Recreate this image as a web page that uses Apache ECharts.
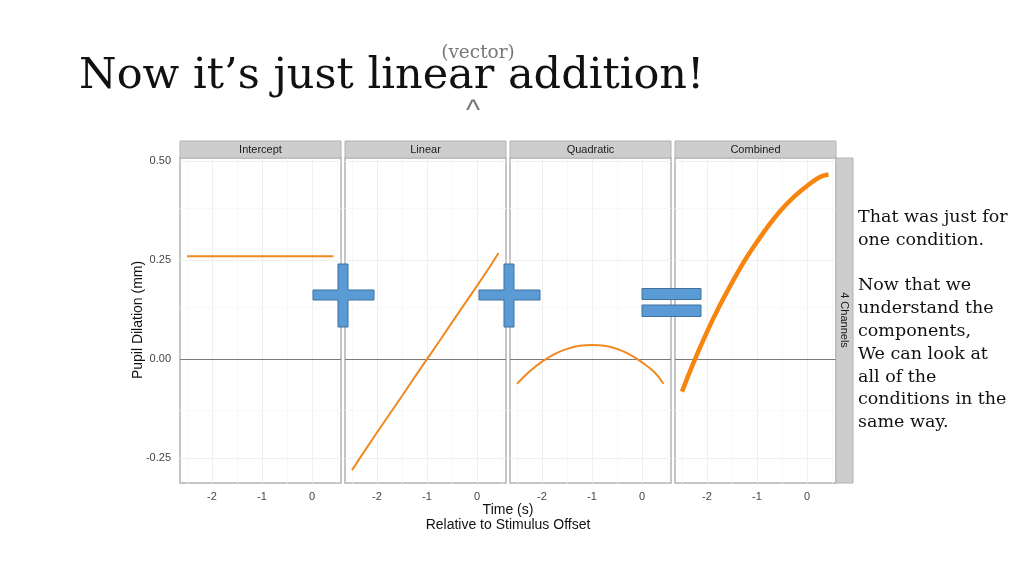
<!DOCTYPE html>
<html>
<head>
<meta charset="utf-8">
<title>Now it's just linear addition!</title>
<script src="https://cdn.jsdelivr.net/npm/echarts@6/dist/echarts.min.js"></script>
<style>
    html, body { margin: 0; padding: 0; background: #fff; }
    #main { width: 1024px; height: 575px; }
</style>
</head>
<body>
<div id="main"></div>
<script>
// 数据
var panelNames = ['Intercept', 'Linear', 'Quadratic', 'Combined'];
var timeSec = [-2.5, -2.25, -2, -1.75, -1.5, -1.25, -1, -0.75, -0.5, -0.25, 0, 0.25, 0.43];
var intercept = [0.26, 0.26, 0.26, 0.26, 0.26, 0.26, 0.26, 0.26, 0.26, 0.26, 0.26, 0.26, 0.26];
var linear = [-0.28, -0.232, -0.185, -0.139, -0.093, -0.046, 0, 0.046, 0.093, 0.139, 0.185, 0.232, 0.268];
var quadratic = [-0.062, -0.031, -0.006, 0.013, 0.026, 0.034, 0.036, 0.034, 0.026, 0.012, -0.008, -0.033, -0.062];
var combined = [-0.082, -0.003, 0.069, 0.134, 0.193, 0.248, 0.296, 0.34, 0.379, 0.411, 0.437, 0.459, 0.466];
var xTicks = [-2, -1, 0];
var yTicks = [-0.25, 0, 0.25, 0.5];
var xMinor = [-2.5, -1.5, -0.5, 0.5];
var yMinor = [-0.125, 0.125, 0.375];

var sans = 'Liberation Sans';
var serif = 'DejaVu Serif';
var panelLeft = [180, 345, 510, 675];
var panelW = 161, panelTop = 158, panelH = 325;
var borderCol = '#b3b3b3';

var myChart = echarts.init(document.getElementById('main'));

var grids = [], xAxes = [], yAxes = [], series = [], graphics = [];

function pairs(vals) {
    return timeSec.map(function (t, k) { return [t, vals[k]]; });
}

// 网格线
function gridLineSeries(i) {
    var d = [];
    xMinor.forEach(function (v) { d.push({ xAxis: v, lineStyle: { color: '#f8f8f8', width: 1, type: 'solid' } }); });
    yMinor.forEach(function (v) { d.push({ yAxis: v, lineStyle: { color: '#f8f8f8', width: 1, type: 'solid' } }); });
    xTicks.forEach(function (v) { d.push({ xAxis: v, lineStyle: { color: '#efefef', width: 1, type: 'solid' } }); });
    yTicks.forEach(function (v) {
        if (v === 0) return;
        d.push({ yAxis: v, lineStyle: { color: '#efefef', width: 1, type: 'solid' } });
    });
    d.push({ yAxis: 0, lineStyle: { color: '#7a7a7a', width: 1.2, type: 'solid' } });
    return {
        type: 'line', xAxisIndex: i, yAxisIndex: i, z: 1,
        data: [[-1, 0]], showSymbol: false, lineStyle: { width: 0, opacity: 0 },
        silent: true,
        markLine: { silent: true, z: 1, symbol: 'none', label: { show: false }, animation: false, data: d }
    };
}

var panelData = [intercept, linear, quadratic, combined];

for (var i = 0; i < 4; i++) {
    grids.push({
        left: panelLeft[i], top: panelTop, width: panelW, height: panelH,
        show: true, backgroundColor: '#fff', borderColor: borderCol, borderWidth: 1.5
    });
    xAxes.push({
        gridIndex: i, type: 'value', min: -2.64, max: 0.58,
        axisLine: { show: false },
        splitLine: { show: false },
        axisTick: { show: true, customValues: xTicks, length: 4, lineStyle: { color: '#555' } },
        axisLabel: {
            customValues: xTicks, margin: 8, color: '#444', fontSize: 11, fontFamily: sans,
            formatter: function (v) { return String(v); }
        }
    });
    yAxes.push({
        gridIndex: i, type: 'value', min: -0.3124, max: 0.5076,
        axisLine: { show: false },
        splitLine: { show: false },
        axisTick: { show: i === 0, customValues: yTicks, length: 4, lineStyle: { color: '#555' } },
        axisLabel: {
            show: i === 0, customValues: yTicks, margin: 9, color: '#444', fontSize: 11, fontFamily: sans,
            formatter: function (v) { return v.toFixed(2); }
        }
    });
    series.push(gridLineSeries(i));
    series.push({
        name: panelNames[i], type: 'line', xAxisIndex: i, yAxisIndex: i, z: 5,
        data: pairs(panelData[i]), showSymbol: false, smooth: i >= 2 ? 0.4 : false,
        lineStyle: { color: i === 3 ? '#f7840c' : '#f0891f', width: i === 3 ? 4.5 : 2 },
        silent: true
    });
    // 分面标题条
    graphics.push({
        type: 'rect', shape: { x: panelLeft[i], y: 141, width: panelW, height: 17 },
        style: { fill: '#cdcdcd', stroke: borderCol, lineWidth: 1 }, z: 10
    });
    graphics.push({
        type: 'text', x: panelLeft[i] + panelW / 2, y: 150,
        style: { text: panelNames[i], fill: '#1a1a1a', font: '11px "' + sans + '"', align: 'center', verticalAlign: 'middle' },
        z: 11
    });
}

// 右侧分面条
graphics.push({
    type: 'rect', shape: { x: 836, y: 158, width: 17, height: 325 },
    style: { fill: '#cdcdcd', stroke: borderCol, lineWidth: 1 }, z: 10
});
graphics.push({
    type: 'text', x: 844.5, y: 320, rotation: -Math.PI / 2,
    style: { text: '4 Channels', fill: '#1a1a1a', font: '11px "' + sans + '"', align: 'center', verticalAlign: 'middle' },
    z: 11
});

// 轴标题
graphics.push({
    type: 'text', x: 138, y: 320, rotation: Math.PI / 2,
    style: { text: 'Pupil Dilation (mm)', fill: '#111', font: '14px "' + sans + '"', align: 'center', verticalAlign: 'middle' }
});
graphics.push({
    type: 'text', x: 508, y: 510,
    style: { text: 'Time (s)', fill: '#111', font: '14px "' + sans + '"', align: 'center', verticalAlign: 'middle' }
});
graphics.push({
    type: 'text', x: 508, y: 525,
    style: { text: 'Relative to Stimulus Offset', fill: '#111', font: '14px "' + sans + '"', align: 'center', verticalAlign: 'middle' }
});

// 标题
graphics.push({
    type: 'text', x: 79, y: 77,
    style: { text: 'Now it’s just linear addition!', fill: '#111', font: '43px "' + serif + '"', align: 'left', verticalAlign: 'middle' }
});
graphics.push({
    type: 'text', x: 478, y: 53,
    style: { text: '(vector)', fill: '#777', font: '18.5px "' + serif + '"', align: 'center', verticalAlign: 'middle' }
});
graphics.push({
    type: 'text', x: 473, y: 112,
    style: { text: '^', fill: '#777', font: '30px "' + sans + '"', align: 'center', verticalAlign: 'middle' }
});

// 右侧说明文字
graphics.push({
    type: 'text', x: 858, y: 206,
    style: {
        text: 'That was just for\none condition.\n\nNow that we\nunderstand the\ncomponents,\nWe can look at\nall of the\nconditions in the\nsame way.',
        fill: '#111', font: '17.5px "' + serif + '"', lineHeight: 22.8, align: 'left', verticalAlign: 'top'
    }
});

// 加号和等号
function cross(x0, x1, y0, y1, vx0, vx1, vy0, vy1) {
    return {
        type: 'polygon', z: 20,
        shape: { points: [[vx0, vy0], [vx1, vy0], [vx1, y0], [x1, y0], [x1, y1], [vx1, y1], [vx1, vy1], [vx0, vy1], [vx0, y1], [x0, y1], [x0, y0], [vx0, y0]] },
        style: { fill: '#5b9bd5', stroke: '#41719c', lineWidth: 1 }
    };
}
graphics.push(cross(313, 374, 290, 300, 338, 348, 264, 327));
graphics.push(cross(479, 540, 290, 300, 504, 514, 264, 327));
graphics.push({
    type: 'rect', z: 20, shape: { x: 642, y: 288.5, width: 59, height: 11 },
    style: { fill: '#5b9bd5', stroke: '#41719c', lineWidth: 1 }
});
graphics.push({
    type: 'rect', z: 20, shape: { x: 642, y: 305, width: 59, height: 11.5 },
    style: { fill: '#5b9bd5', stroke: '#41719c', lineWidth: 1 }
});

var option = {
    animation: false,
    backgroundColor: '#fff',
    grid: grids,
    xAxis: xAxes,
    yAxis: yAxes,
    series: series,
    graphic: graphics
};

myChart.setOption(option);
</script>
</body>
</html>
